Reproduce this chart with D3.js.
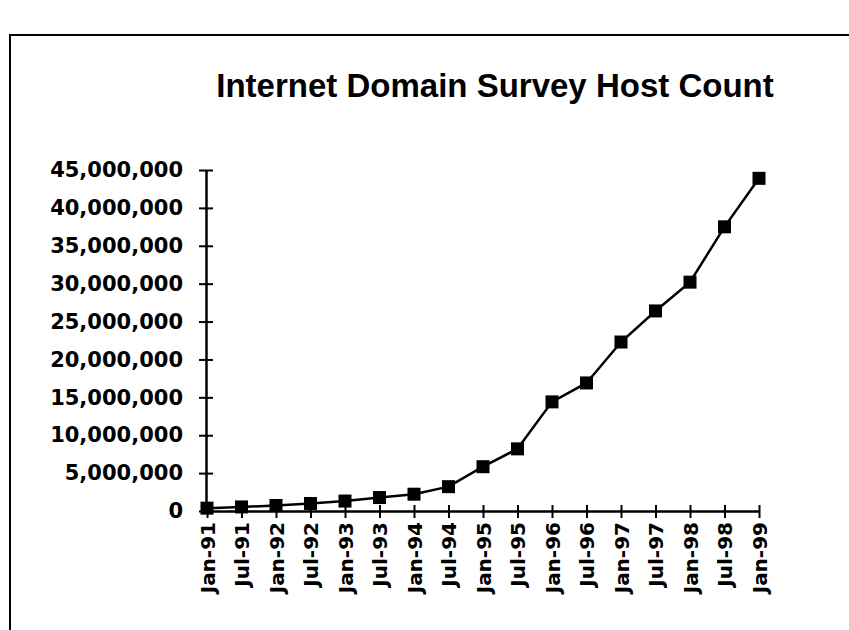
<!DOCTYPE html>
<html><head><meta charset="utf-8">
<script src="https://cdn.jsdelivr.net/npm/d3@7"></script>
<style>html,body{margin:0;padding:0;background:#fff;} svg{display:block}</style>
</head><body>
<svg id="chart" width="849" height="630"></svg>
<script>
const categories = ["Jan-91","Jul-91","Jan-92","Jul-92","Jan-93","Jul-93","Jan-94","Jul-94",
  "Jan-95","Jul-95","Jan-96","Jul-96","Jan-97","Jul-97","Jan-98","Jul-98","Jan-99"];
const hostCounts = [376000, 535000, 727000, 992000, 1313000, 1776000, 2217000, 3212000,
  5846000, 8200000, 14400000, 16900000, 22300000, 26400000, 30200000, 37500000, 43900000];
const yTicks = [0, 5000000, 10000000, 15000000, 20000000, 25000000, 30000000, 35000000, 40000000, 45000000];
const chartTitle = "Internet Domain Survey Host Count";

const W = 849, H = 630;
const margin = {left: 207, right: 90, top: 170, bottom: 119};
const svg = d3.select("#chart");

// frame (left and top border of the scanned chart box)
svg.append("path")
  .attr("d", `M10,${H} L10,35 L${W},35`)
  .attr("fill", "none").attr("stroke", "#000").attr("stroke-width", 2);

// title
svg.append("text")
  .attr("x", 495).attr("y", 97)
  .attr("text-anchor", "middle")
  .attr("font-family", "'Liberation Sans', Arial, sans-serif")
  .attr("font-weight", "bold")
  .attr("font-size", 33)
  .attr("fill", "#000")
  .text(chartTitle);

const x = d3.scalePoint().domain(categories).range([margin.left, W - margin.right]);
const y = d3.scaleLinear().domain([0, 45000000]).range([H - margin.bottom, margin.top]);

// y axis
const yAxis = svg.append("g")
  .attr("transform", `translate(${margin.left - 1},0)`)
  .call(d3.axisLeft(y).tickValues(yTicks).tickFormat(d3.format(",")).tickSizeOuter(0).tickSizeInner(7));
yAxis.select(".domain").attr("stroke-width", 2.5);
yAxis.selectAll(".tick line").attr("x1", -7).attr("x2", 7).attr("stroke-width", 2);
yAxis.selectAll(".tick text")
  .attr("x", -23)
  .attr("font-family", "'DejaVu Sans', sans-serif")
  .attr("font-weight", "bold")
  .attr("font-size", 21)
  .attr("fill", "#000");

// x axis
const xAxis = svg.append("g")
  .attr("transform", `translate(0,${y(0)})`)
  .call(d3.axisBottom(x).tickSizeOuter(0).tickSizeInner(7));
xAxis.select(".domain").attr("stroke-width", 2.5);
xAxis.selectAll(".tick line").attr("y1", -6).attr("y2", 7).attr("stroke-width", 2);
xAxis.selectAll(".tick text")
  .attr("transform", "rotate(-90)")
  .attr("text-anchor", "end")
  .attr("x", -11).attr("y", 0).attr("dy", "0.36em")
  .attr("font-family", "'DejaVu Sans', sans-serif")
  .attr("font-weight", "bold")
  .attr("font-size", 20)
  .attr("fill", "#000");

// data line
const data = categories.map((c, i) => ({c, v: hostCounts[i]}));
svg.append("path")
  .datum(data)
  .attr("fill", "none")
  .attr("stroke", "#000")
  .attr("stroke-width", 2.5)
  .attr("d", d3.line().x(d => x(d.c)).y(d => y(d.v)));

// markers
const ms = 13;
svg.selectAll("rect.marker")
  .data(data)
  .join("rect")
  .attr("class", "marker")
  .attr("x", d => x(d.c) - ms / 2)
  .attr("y", d => y(d.v) - ms / 2)
  .attr("width", ms).attr("height", ms)
  .attr("fill", "#000");
</script>
</body></html>
